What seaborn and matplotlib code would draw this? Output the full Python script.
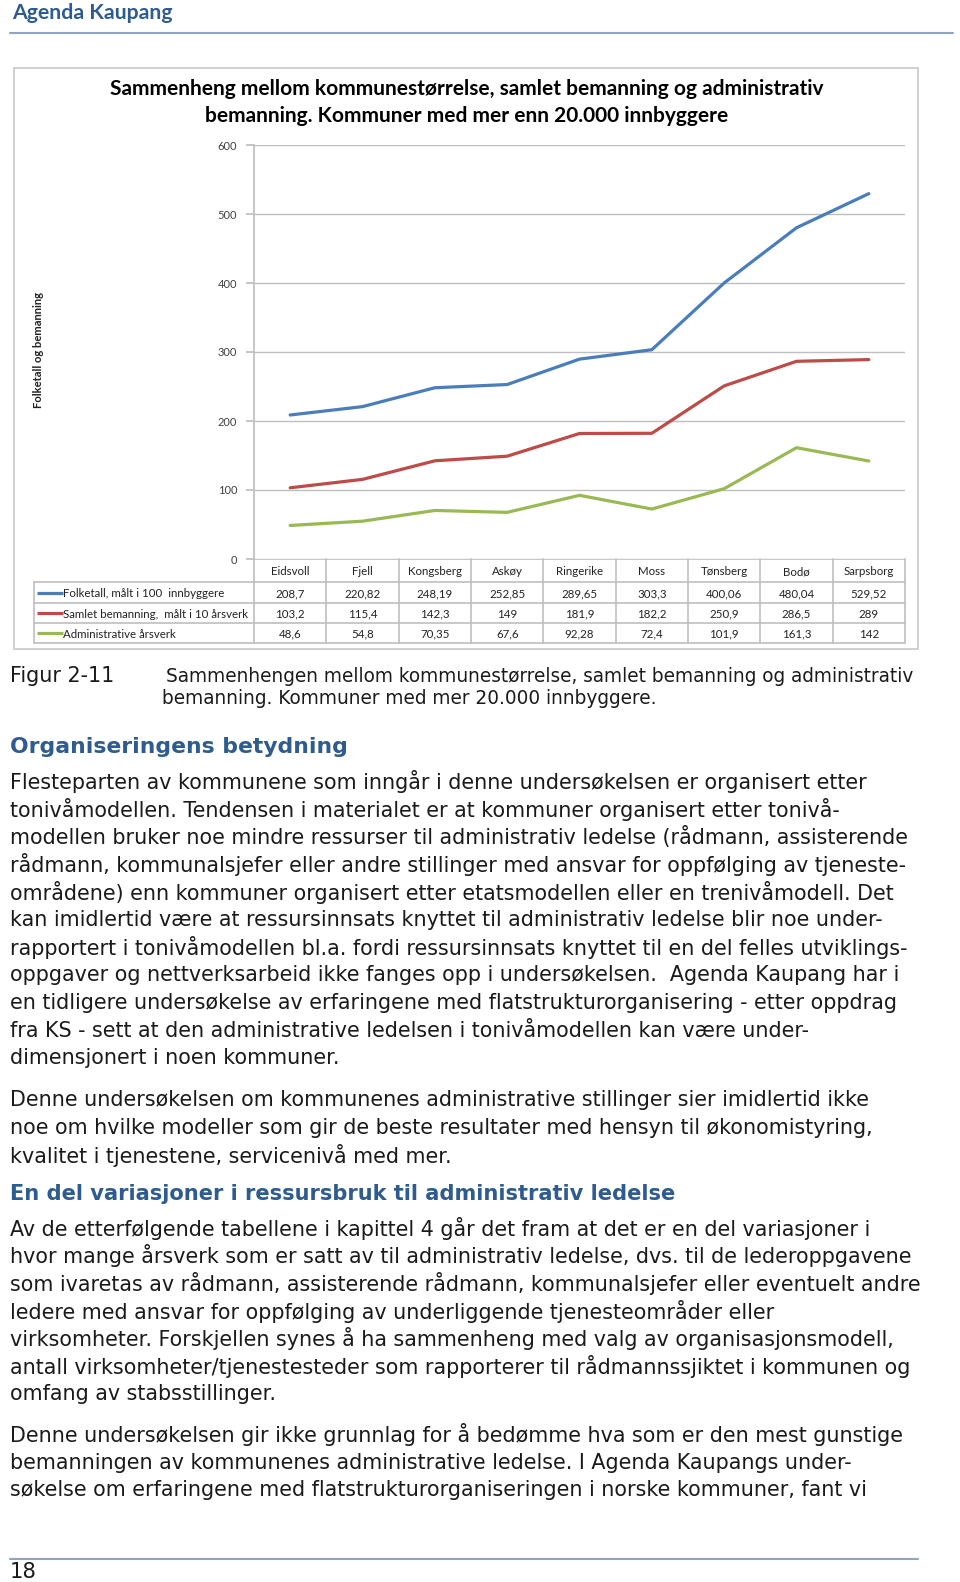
import pandas as pd
import numpy as np
import seaborn as sns
import matplotlib
matplotlib.use("Agg")
import matplotlib.pyplot as plt
from matplotlib.transforms import blended_transform_factory

# =========================
# Data
# =========================
kommuner = ['Eidsvoll', 'Fjell', 'Kongsberg', 'Askøy', 'Ringerike',
            'Moss', 'Tønsberg', 'Bodø', 'Sarpsborg']
folketall = [208.7, 220.82, 248.19, 252.85, 289.65, 303.3, 400.06, 480.04, 529.52]
samlet = [103.2, 115.4, 142.3, 149, 181.9, 182.2, 250.9, 286.5, 289]
admin = [48.6, 54.8, 70.35, 67.6, 92.28, 72.4, 101.9, 161.3, 142]
serie_navn = ['Folketall, målt i 100  innbyggere',
              'Samlet bemanning,  målt i 10 årsverk',
              'Administrative årsverk']
farger = ['#4A7EBB', '#BE4B48', '#98B954']
yticks = [0, 100, 200, 300, 400, 500, 600]

df = pd.DataFrame({'kommune': kommuner,
                   serie_navn[0]: folketall,
                   serie_navn[1]: samlet,
                   serie_navn[2]: admin})
long = df.melt(id_vars='kommune', var_name='serie', value_name='verdi')

# =========================
# Page text
# =========================
chart_title = ['Sammenheng mellom kommunestørrelse, samlet bemanning og administrativ',
               'bemanning. Kommuner med mer enn 20.000 innbyggere']
caption = ['Sammenhengen mellom kommunestørrelse, samlet bemanning og administrativ',
           'bemanning. Kommuner med mer 20.000 innbyggere.']
heading1 = 'Organiseringens betydning'
heading2 = 'En del variasjoner i ressursbruk til administrativ ledelse'
para1 = [
    'Flesteparten av kommunene som inngår i denne undersøkelsen er organisert etter',
    'tonivåmodellen. Tendensen i materialet er at kommuner organisert etter tonivå-',
    'modellen bruker noe mindre ressurser til administrativ ledelse (rådmann, assisterende',
    'rådmann, kommunalsjefer eller andre stillinger med ansvar for oppfølging av tjeneste-',
    'områdene) enn kommuner organisert etter etatsmodellen eller en trenivåmodell. Det',
    'kan imidlertid være at ressursinnsats knyttet til administrativ ledelse blir noe under-',
    'rapportert i tonivåmodellen bl.a. fordi ressursinnsats knyttet til en del felles utviklings-',
    'oppgaver og nettverksarbeid ikke fanges opp i undersøkelsen.  Agenda Kaupang har i',
    'en tidligere undersøkelse av erfaringene med flatstrukturorganisering - etter oppdrag',
    'fra KS - sett at den administrative ledelsen i tonivåmodellen kan være under-',
    'dimensjonert i noen kommuner.',
]
para2 = [
    'Denne undersøkelsen om kommunenes administrative stillinger sier imidlertid ikke',
    'noe om hvilke modeller som gir de beste resultater med hensyn til økonomistyring,',
    'kvalitet i tjenestene, servicenivå med mer.',
]
para3 = [
    'Av de etterfølgende tabellene i kapittel 4 går det fram at det er en del variasjoner i',
    'hvor mange årsverk som er satt av til administrativ ledelse, dvs. til de lederoppgavene',
    'som ivaretas av rådmann, assisterende rådmann, kommunalsjefer eller eventuelt andre',
    'ledere med ansvar for oppfølging av underliggende tjenesteområder eller',
    'virksomheter. Forskjellen synes å ha sammenheng med valg av organisasjonsmodell,',
    'antall virksomheter/tjenestesteder som rapporterer til rådmannssjiktet i kommunen og',
    'omfang av stabsstillinger.',
]
para4 = [
    'Denne undersøkelsen gir ikke grunnlag for å bedømme hva som er den mest gunstige',
    'bemanningen av kommunenes administrative ledelse. I Agenda Kaupangs under-',
    'søkelse om erfaringene med flatstrukturorganiseringen i norske kommuner, fant vi',
]

# =========================
# Figure + page canvas (pixel coords)
# =========================
sns.set_theme(style="white")
plt.rcParams['font.family'] = ['DejaVu Sans']

W, H = 960, 1582
fig = plt.figure(figsize=(W / 100, H / 100), dpi=100)
page = fig.add_axes([0, 0, 1, 1])
page.set_xlim(0, W)
page.set_ylim(H, 0)
page.axis('off')
renderer = fig.canvas.get_renderer()

BLUE = '#2E5C91'
BODY = '#1A1A1A'
GRID = '#BFBFBF'
CHARTFONT = ['Lato', 'DejaVu Sans']


def fit(txt, target, **kw):
    # fontsize that gives the text the wanted pixel width
    t = page.text(0, 0, txt, fontsize=10, **kw)
    w = t.get_window_extent(renderer).width
    t.remove()
    return 10 * target / w


# header / footer
fs = fit('Agenda Kaupang', 161, weight='bold', family=CHARTFONT)
page.text(12, 13, 'Agenda Kaupang', fontsize=fs, weight='bold', family=CHARTFONT,
          color=BLUE, va='center')
page.plot([10, 953], [33, 33], color='#8EA4C0', lw=1.5)
page.plot([10, 918], [1559, 1559], color='#8EA4C0', lw=1.5)
page.text(10, 1572, '18', fontsize=fit('18', 27, family='DejaVu Sans'), color=BODY,
          va='center')

# chart frame
page.add_patch(plt.Rectangle((14, 68), 904, 581, fill=False, ec='#C8C8C8', lw=1.2))

fs = fit(chart_title[0], 716, weight='bold', family=CHARTFONT)
for i, line in enumerate(chart_title):
    page.text(467, 89 + 27 * i, line, fontsize=fs, weight='bold', family=CHARTFONT,
              ha='center', va='center', color='black')
page.text(38, 350, 'Folketall og bemanning', rotation=90, weight='bold',
          fontsize=fit('Folketall og bemanning', 117, weight='bold', family=CHARTFONT),
          family=CHARTFONT, ha='center', va='center', color='#222222')

# =========================
# Line chart
# =========================
L, R, T, B = 254, 905, 145, 559
ax = fig.add_axes([L / W, 1 - B / H, (R - L) / W, (B - T) / H])
sns.lineplot(data=long, x='kommune', y='verdi', hue='serie', hue_order=serie_navn,
             palette=farger, linewidth=2.3, legend=False, sort=False, ax=ax)
ax.set_xlim(-0.5, len(kommuner) - 0.5)
ax.set_ylim(0, 600)
ax.set_yticks(yticks)
ax.set_yticklabels([str(v) for v in yticks], fontsize=8, color='#404040',
                   family=CHARTFONT)
ax.set_xticks([])
ax.set_xlabel('')
ax.set_ylabel('')
ax.yaxis.grid(True, color=GRID, lw=1)
ax.set_axisbelow(True)
for s in ['top', 'right', 'bottom']:
    ax.spines[s].set_visible(False)
ax.spines['left'].set_color(GRID)
ax.tick_params(axis='y', length=6, color=GRID, pad=6, left=True)

# =========================
# Data table under the chart
# =========================
tr = blended_transform_factory(ax.transData, page.transData)
n = len(kommuner)
rows_y = [559, 582, 603, 623, 643]
# horizontal lines
page.plot([L, R], [rows_y[0]] * 2, color=GRID, lw=1.2)
for y in rows_y[1:]:
    page.plot([34, R], [y, y], color=GRID, lw=1.2)
# vertical lines
for i in range(n + 1):
    ax.plot([i - 0.5, i - 0.5], [rows_y[0], rows_y[-1]], color=GRID, lw=1.2,
            transform=tr, clip_on=False)
page.plot([34, 34], [rows_y[1], rows_y[-1]], color=GRID, lw=1.2)

tfs = fit(serie_navn[0], 161, family=CHARTFONT)
for i, k in enumerate(kommuner):
    ax.text(i, (rows_y[0] + rows_y[1]) / 2, k, transform=tr, ha='center',
            va='center_baseline', fontsize=tfs, family=CHARTFONT, color='#222222')
for r, (navn, vals, c) in enumerate(zip(serie_navn, [folketall, samlet, admin], farger)):
    yc = (rows_y[r + 1] + rows_y[r + 2]) / 2
    page.plot([37, 63], [yc, yc], color=c, lw=2.3, solid_capstyle='butt')
    page.text(63, yc, navn, fontsize=tfs, family=CHARTFONT, va='center_baseline',
              color='#222222')
    for i, v in enumerate(vals):
        ax.text(i, yc, f'{v:g}'.replace('.', ','), transform=tr, ha='center',
                va='center_baseline', fontsize=tfs, family=CHARTFONT, color='#222222')

# =========================
# Caption, headings and body text
# =========================
body_fs = fit(para1[0], 852, family='DejaVu Sans')
page.text(10, 676, 'Figur 2-11', fontsize=body_fs, color=BODY, va='center')
cap_fs = fit(caption[0], 749, family='DejaVu Sans')
page.text(166, 676, caption[0], fontsize=cap_fs, color=BODY, va='center')
page.text(162, 698, caption[1], fontsize=cap_fs, color=BODY, va='center')

h1 = fit(heading1, 336, weight='bold', family='DejaVu Sans')
h2 = fit(heading2, 665, weight='bold', family='DejaVu Sans')
page.text(10, 747, heading1, fontsize=h1, weight='bold', color=BLUE, va='center')
page.text(10, 1194, heading2, fontsize=h2, weight='bold', color=BLUE, va='center')

step = 27.7
for lines, y0 in [(para1, 781.5), (para2, 1100), (para3, 1228), (para4, 1435)]:
    for j, line in enumerate(lines):
        page.text(10, y0 + step * j, line, fontsize=body_fs, color=BODY, va='center')

plt.savefig('out.png', dpi=100)
